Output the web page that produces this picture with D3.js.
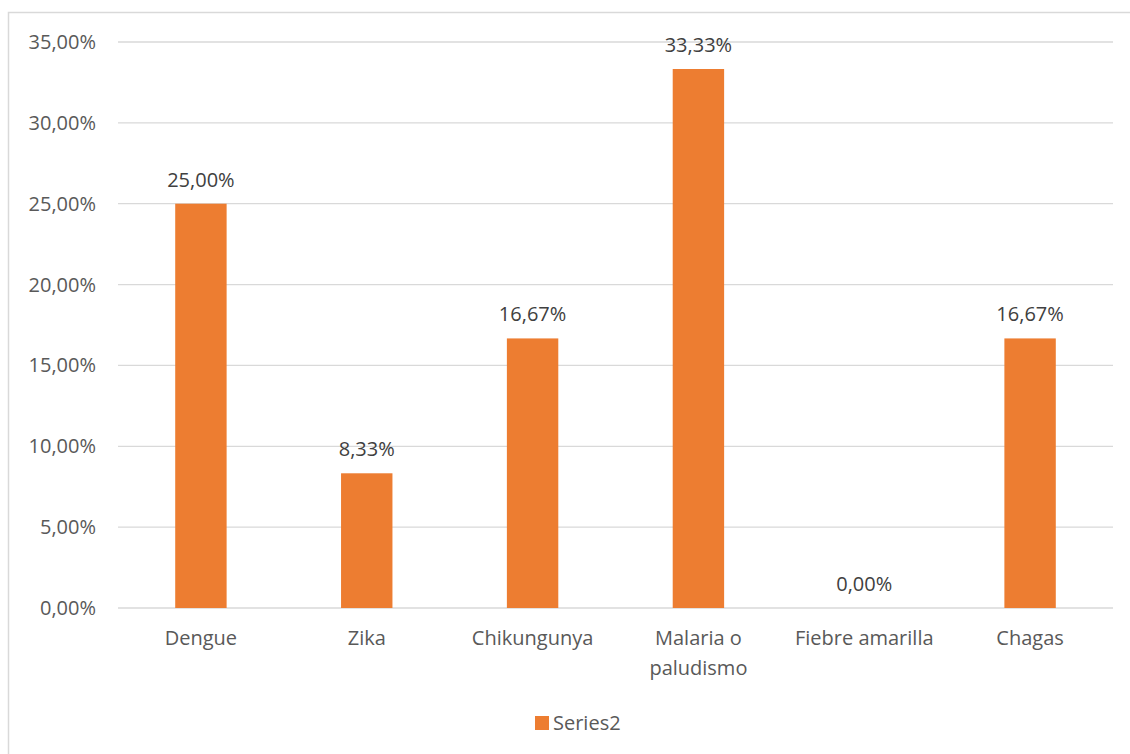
<!DOCTYPE html>
<html>
<head>
<meta charset="utf-8">
<script src="https://cdn.jsdelivr.net/npm/d3@7"></script>
<style>
  html, body { margin: 0; padding: 0; background: #fff; }
  svg { display: block; }
  text { font-family: "Open Sans", "Noto Sans", sans-serif; }
</style>
</head>
<body>
<svg id="chart" width="1130" height="754"></svg>
<script>
// Vector-borne diseases and their share of responses
const categories = ["Dengue", "Zika", "Chikungunya", "Malaria o paludismo", "Fiebre amarilla", "Chagas"];
const categoryLines = [["Dengue"], ["Zika"], ["Chikungunya"], ["Malaria o", "paludismo"], ["Fiebre amarilla"], ["Chagas"]];
const values = [25.00, 8.33, 16.67, 33.33, 0.00, 16.67];
const yTicks = [0, 5, 10, 15, 20, 25, 30, 35];
const seriesName = "Series2";

const svg = d3.select("#chart");
const W = 1130, H = 754;
const plot = { left: 118, right: 1113, top: 42, bottom: 608 };
const barColor = "#ED7D31";
const fontSize = 20;

// Outer chart frame
svg.append("rect")
  .attr("x", 8.5).attr("y", 12.5)
  .attr("width", W + 20).attr("height", H + 20)
  .attr("fill", "none").attr("stroke", "#D9D9D9").attr("stroke-width", 1.5);

const fmt = v => v.toFixed(2).replace(".", ",") + "%";

const x = d3.scaleBand().domain(categories).range([plot.left, plot.right]).paddingInner(0.69).paddingOuter(0.345);
const y = d3.scaleLinear().domain([0, 35]).range([plot.bottom, plot.top]);

// Gridlines
svg.append("g").selectAll("line").data(yTicks).join("line")
  .attr("x1", plot.left).attr("x2", plot.right)
  .attr("y1", d => y(d)).attr("y2", d => y(d))
  .attr("stroke", "#D9D9D9").attr("stroke-width", 1.3);

// Y tick labels
svg.append("g").selectAll("text").data(yTicks).join("text")
  .attr("x", 96).attr("y", d => y(d))
  .attr("dy", "0.35em")
  .attr("text-anchor", "end")
  .attr("font-size", fontSize)
  .attr("fill", "#595959")
  .text(d => fmt(d));

// Bars
svg.append("g").selectAll("rect").data(values).join("rect")
  .attr("x", (d, i) => x(categories[i]))
  .attr("width", x.bandwidth())
  .attr("y", d => y(d))
  .attr("height", d => y(0) - y(d))
  .attr("fill", barColor);

// Data labels
svg.append("g").selectAll("text").data(values).join("text")
  .attr("x", (d, i) => x(categories[i]) + x.bandwidth() / 2)
  .attr("y", d => y(d) - 17)
  .attr("text-anchor", "middle")
  .attr("font-size", fontSize)
  .attr("fill", "#404040")
  .text(d => fmt(d));

// Category labels
const cat = svg.append("g").selectAll("text").data(categoryLines).join("text")
  .attr("x", (d, i) => x(categories[i]) + x.bandwidth() / 2)
  .attr("y", 645)
  .attr("text-anchor", "middle")
  .attr("font-size", fontSize)
  .attr("fill", "#595959");
cat.selectAll("tspan").data(d => d).join("tspan")
  .attr("x", function() { return d3.select(this.parentNode).attr("x"); })
  .attr("dy", (d, i) => i === 0 ? 0 : 30)
  .text(d => d);

// Legend
const legend = svg.append("g");
legend.append("rect").attr("x", 535).attr("y", 716).attr("width", 14).attr("height", 14).attr("fill", barColor);
legend.append("text").attr("x", 553).attr("y", 723).attr("dy", "0.35em")
  .attr("font-size", fontSize).attr("fill", "#595959").text(seriesName);
</script>
</body>
</html>
